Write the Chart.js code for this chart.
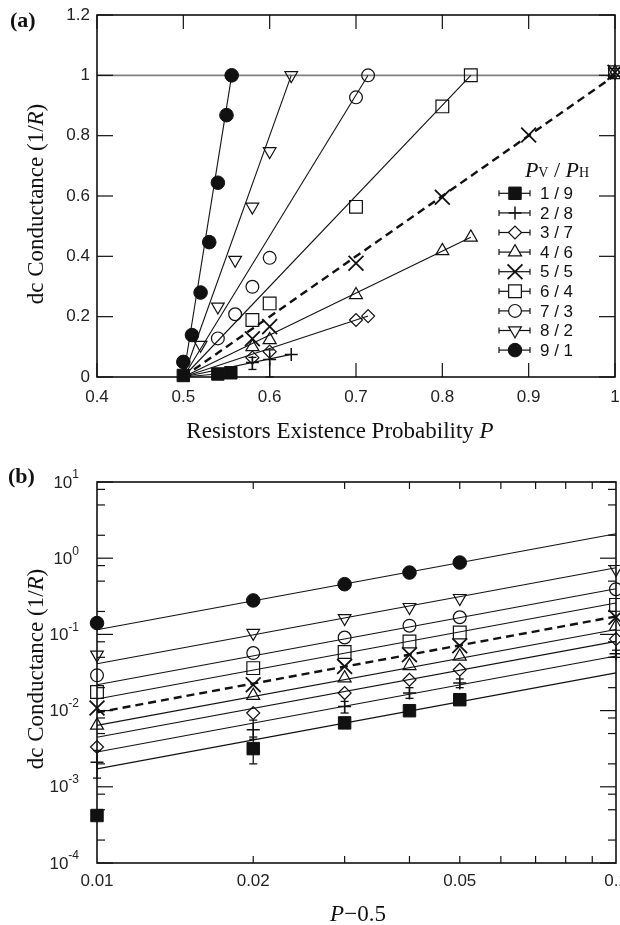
<!DOCTYPE html>
<html>
<head>
<meta charset="utf-8">
<script src="https://cdn.jsdelivr.net/npm/chart.js@4.4.1/dist/chart.umd.min.js"></script>
<style>
  body { margin: 0; background: #fff; }
  canvas { display: block; }
</style>
</head>
<body>
<canvas id="chartA" width="620" height="450"></canvas>
<canvas id="chartB" width="620" height="475"></canvas>
<script>
// ---------- data ----------
const seriesNames = ['1 / 9', '2 / 8', '3 / 7', '4 / 6', '5 / 5', '6 / 4', '7 / 3', '8 / 2', '9 / 1'];

// (a) conductance vs P
const aP19 = [0.50, 0.54, 0.555];
const aG19 = [0.005, 0.010, 0.014];
const aP28 = [0.58, 0.60, 0.625];
const aG28 = [0.048, 0.058, 0.075];
const aLo28 = [0.025, 0.0, null];
const aHi28 = [0.065, 0.09, null];
const aP37 = [0.58, 0.60, 0.70, 0.714];
const aG37 = [0.064, 0.084, 0.189, 0.202];
const aP46 = [0.58, 0.60, 0.70, 0.80, 0.833, 1.0];
const aG46 = [0.100, 0.123, 0.272, 0.418, 0.463, 1.01];
const aP55 = [0.58, 0.60, 0.70, 0.80, 0.90, 1.0];
const aG55 = [0.127, 0.167, 0.377, 0.596, 0.802, 1.01];
const aP64 = [0.58, 0.60, 0.70, 0.80, 0.833, 1.0];
const aG64 = [0.189, 0.244, 0.564, 0.897, 1.0, 1.01];
const aP73 = [0.54, 0.56, 0.58, 0.60, 0.70, 0.714];
const aG73 = [0.128, 0.208, 0.299, 0.395, 0.927, 1.0];
const aP82 = [0.52, 0.54, 0.56, 0.58, 0.60, 0.625, 1.0];
const aG82 = [0.106, 0.233, 0.388, 0.564, 0.748, 1.0, 1.01];
const aP91 = [0.50, 0.51, 0.52, 0.53, 0.54, 0.55, 0.556];
const aG91 = [0.05, 0.139, 0.28, 0.447, 0.644, 0.868, 1.0];
const aPs = [aP19, aP28, aP37, aP46, aP55, aP64, aP73, aP82, aP91];
const aGs = [aG19, aG28, aG37, aG46, aG55, aG64, aG73, aG82, aG91];
// fitted lines in (a): from P = 0.5 (G = 0) to an end point
const aFitStart = 0.5;
const aFitEndP = [0.555, 0.625, 0.714, 0.833, 1.0, 0.833, 0.714, 0.625, 0.556];
const aFitEndG = [0.014, 0.075, 0.202, 0.463, 1.0, 1.0, 1.0, 1.0, 1.0];
const aRefLevel = 1;
const aXTicks = [0.4, 0.5, 0.6, 0.7, 0.8, 0.9, 1.0];
const aYTicks = [0, 0.2, 0.4, 0.6, 0.8, 1.0, 1.2];

// (b) conductance vs P-0.5 (log-log)
const bX = [0.01, 0.02, 0.03, 0.04, 0.05, 0.1];
const bG19 = [0.00042, 0.00317, 0.0069, 0.00997, 0.0139, null];
const bG28 = [0.0021, 0.0056, 0.0113, 0.017, 0.023, 0.0557];
const bLo28 = [0.0013, 0.0042, 0.0093, 0.0145, 0.020, 0.050];
const bHi28 = [0.0030, 0.0075, 0.0132, 0.020, 0.026, 0.062];
const bLo19 = [null, 0.0020, null, null, null, null];
const bHi19 = [null, 0.0045, null, null, null, null];
const bG37 = [0.00333, 0.0093, 0.017, 0.0254, 0.0344, 0.0867];
const bG46 = [0.0064, 0.0157, 0.0267, 0.0387, 0.0514, 0.127];
const bG55 = [0.0108, 0.0218, 0.038, 0.054, 0.071, 0.168];
const bG64 = [0.0175, 0.0361, 0.0586, 0.0807, 0.106, 0.244];
const bG73 = [0.029, 0.0569, 0.091, 0.13, 0.168, 0.392];
const bG82 = [0.054, 0.104, 0.163, 0.228, 0.299, 0.718];
const bG91 = [0.141, 0.279, 0.456, 0.648, 0.877, null];
const bGs = [bG19, bG28, bG37, bG46, bG55, bG64, bG73, bG82, bG91];
// power-law fits: value at x = 0.01 and x = 0.1
const bFitX = [0.01, 0.1];
const bFitAt001 = [0.00172, 0.00286, 0.00446, 0.0064, 0.00946, 0.0142, 0.0218, 0.0412, 0.115];
const bFitAt01 = [0.0313, 0.052, 0.081, 0.116, 0.172, 0.258, 0.397, 0.75, 2.09];
const bXLabels = [0.01, 0.02, 0.05, 0.1];
const bXTicks = [0.02, 0.03, 0.04, 0.05, 0.06, 0.07, 0.08, 0.09];
const bYMajor = [1e-4, 1e-3, 1e-2, 1e-1, 1, 10];
const bYMinorMult = [2, 5, 8];

// ---------- styles ----------
const INK = '#111';
const markers = [
  { style: 'rect', r: 8.8, filled: true, bw: 1 },
  { style: 'cross', r: 6.5, bw: 1.5 },
  { style: 'rectRot', r: 6.5, bw: 1.2 },
  { style: 'triangle', r: 7.5, bw: 1.2 },
  { style: 'crossRot', r: 10.5, bw: 1.8 },
  { style: 'rect', r: 9, bw: 1.2 },
  { style: 'circle', r: 6.4, bw: 1.2 },
  { style: 'triangle', r: 7.3, rot: 180, bw: 1.2 },
  { style: 'circle', r: 6.8, filled: true, bw: 1 }
];
const SANS = '"Liberation Sans", Arial, sans-serif';
const SERIF = '"Liberation Serif", "Times New Roman", serif';

function markerSet(i, xs, ys, lo, hi) {
  const pts = [], los = [], his = [];
  xs.forEach((x, j) => {
    if (ys[j] == null) return;
    pts.push({ x: x, y: ys[j] });
    los.push(lo ? lo[j] : null);
    his.push(hi ? hi[j] : null);
  });
  const m = markers[i];
  return {
    label: seriesNames[i],
    data: pts,
    showLine: false,
    pointStyle: m.style,
    pointRadius: m.r,
    pointHoverRadius: m.r,
    pointRotation: m.rot || 0,
    pointBorderWidth: m.bw,
    pointBorderColor: INK,
    pointBackgroundColor: m.filled ? INK : 'rgba(0,0,0,0)',
    clip: false,
    order: 0,
    errLo: los,
    errHi: his
  };
}

function fitSet(i, x0, y0, x1, y1) {
  return {
    label: '',
    data: [{ x: x0, y: y0 }, { x: x1, y: y1 }],
    showLine: true,
    pointRadius: 0,
    borderColor: INK,
    borderWidth: i === 4 ? 2.4 : 1.1,
    borderDash: i === 4 ? [8, 5] : [],
    clip: false,
    order: 1
  };
}

function richText(ctx, parts, cx, y) {
  let w = 0;
  parts.forEach(p => { ctx.font = p.f; p.w = ctx.measureText(p.t).width; w += p.w; });
  let x = cx - w / 2;
  ctx.textAlign = 'left';
  ctx.textBaseline = 'alphabetic';
  parts.forEach(p => { ctx.font = p.f; ctx.fillText(p.t, x, y + (p.dy || 0)); x += p.w; });
}

function yTitle(ctx, x, y) {
  ctx.save();
  ctx.translate(x, y);
  ctx.rotate(-Math.PI / 2);
  richText(ctx, [
    { t: 'dc Conductance (1/', f: '23px ' + SERIF },
    { t: 'R', f: 'italic 23px ' + SERIF },
    { t: ')', f: '23px ' + SERIF }
  ], 0, 0);
  ctx.restore();
}

function line(ctx, x0, y0, x1, y1) {
  ctx.beginPath(); ctx.moveTo(x0, y0); ctx.lineTo(x1, y1); ctx.stroke();
}

// frame with inward ticks on all four sides
function drawFrame(chart, xTicks, yTicks) {
  const ctx = chart.ctx, a = chart.chartArea;
  const xs = chart.scales.x, ys = chart.scales.y;
  ctx.save();
  ctx.strokeStyle = INK;
  ctx.lineWidth = 1.2;
  xTicks.forEach(t => {
    const px = xs.getPixelForValue(t.v);
    line(ctx, px, a.bottom, px, a.bottom - t.len);
    line(ctx, px, a.top, px, a.top + t.len);
  });
  yTicks.forEach(t => {
    const py = ys.getPixelForValue(t.v);
    line(ctx, a.left, py, a.left + t.len, py);
    line(ctx, a.right, py, a.right - t.len, py);
  });
  ctx.lineWidth = 1.6;
  ctx.strokeRect(a.left, a.top, a.right - a.left, a.bottom - a.top);
  ctx.restore();
}

const errBars = {
  id: 'errBars',
  afterDatasetsDraw(chart) {
    const ctx = chart.ctx, xs = chart.scales.x, ys = chart.scales.y;
    ctx.save();
    ctx.strokeStyle = INK;
    ctx.lineWidth = 1.3;
    chart.data.datasets.forEach(ds => {
      if (!ds.errLo) return;
      ds.data.forEach((pt, j) => {
        const lo = ds.errLo[j], hi = ds.errHi[j];
        if (lo == null || hi == null) return;
        const px = xs.getPixelForValue(pt.x);
        const y1 = ys.getPixelForValue(lo), y2 = ys.getPixelForValue(hi);
        line(ctx, px, y1, px, y2);
        line(ctx, px - 4, y1, px + 4, y1);
        line(ctx, px - 4, y2, px + 4, y2);
      });
    });
    ctx.restore();
  }
};

const hiddenGrid = { display: false, drawTicks: false };
const shortNum = v => String(Math.round(v * 10) / 10);
// fixed box sizes, no extra room for edge labels
function fixBox(w, h) {
  return s => {
    if (w != null) s.width = w;
    if (h != null) s.height = h;
    s.paddingLeft = 0; s.paddingRight = 0; s.paddingTop = 0; s.paddingBottom = 0;
  };
}

// ---------- panel (a) ----------
document.addEventListener('DOMContentLoaded', function () {
  const dsA = [];
  for (let i = 0; i < 9; i++) {
    dsA.push(markerSet(i, aPs[i], aGs[i], i === 1 ? aLo28 : null, i === 1 ? aHi28 : null));
  }
  for (let i = 0; i < 9; i++) {
    dsA.push(fitSet(i, aFitStart, 0, aFitEndP[i], aFitEndG[i]));
  }
  dsA.push({
    label: '', data: [{ x: aXTicks[0], y: aRefLevel }, { x: aXTicks[aXTicks.length - 1], y: aRefLevel }],
    showLine: true, pointRadius: 0, borderColor: '#808080', borderWidth: 1.6, order: 2
  });

  const decoA = {
    id: 'decoA',
    afterDraw(chart) {
      const ctx = chart.ctx;
      drawFrame(chart,
        aXTicks.map(v => ({ v: v, len: 14 })),
        aYTicks.map(v => ({ v: v, len: 16 })));
      ctx.save();
      ctx.fillStyle = INK;
      ctx.textAlign = 'left';
      ctx.textBaseline = 'alphabetic';
      ctx.font = 'bold 22px ' + SERIF;
      ctx.fillText('(a)', 10, 27);
      yTitle(ctx, 43, 204);
      richText(ctx, [
        { t: 'Resistors Existence Probability ', f: '23px ' + SERIF },
        { t: 'P', f: 'italic 23px ' + SERIF }
      ], 340, 438);

      // legend
      richText(ctx, [
        { t: 'P', f: 'italic 22px ' + SERIF },
        { t: 'V', f: '14px ' + SERIF },
        { t: ' / ', f: '22px ' + SERIF },
        { t: 'P', f: 'italic 22px ' + SERIF },
        { t: 'H', f: '14px ' + SERIF }
      ], 557, 177);
      for (let i = 0; i < 9; i++) {
        const y = 193.3 + i * 19.6;
        const m = markers[i];
        ctx.strokeStyle = INK;
        ctx.lineWidth = 1.2;
        line(ctx, 499, y, 530, y);
        line(ctx, 499, y - 3, 499, y + 3);
        line(ctx, 530, y - 3, 530, y + 3);
        ctx.fillStyle = m.filled ? INK : '#fff';
        ctx.lineWidth = m.bw;
        Chart.helpers.drawPoint(ctx, { pointStyle: m.style, rotation: m.rot || 0, radius: m.r, borderWidth: m.bw }, 515, y);
        ctx.fillStyle = INK;
        ctx.font = '17px ' + SANS;
        ctx.textBaseline = 'middle';
        ctx.fillText(seriesNames[i], 540, y + 1);
      }
      ctx.restore();
    }
  };

  new Chart(document.getElementById('chartA').getContext('2d'), {
    type: 'scatter',
    data: { datasets: dsA },
    options: {
      responsive: false,
      animation: false,
      events: [],
      layout: { autoPadding: false, padding: { left: 0, top: 15, right: 5, bottom: 0 } },
      plugins: { legend: { display: false }, tooltip: { enabled: false } },
      scales: {
        x: {
          type: 'linear', min: 0.4, max: 1,
          grid: hiddenGrid, border: { display: false },
          ticks: { stepSize: 0.1, padding: 10, maxRotation: 0, autoSkip: false, color: '#222', font: { family: SANS, size: 17 }, callback: shortNum },
          afterFit: fixBox(null, 73)
        },
        y: {
          type: 'linear', min: 0, max: 1.2,
          grid: hiddenGrid, border: { display: false },
          ticks: { stepSize: 0.2, padding: 7, color: '#222', font: { family: SANS, size: 17 }, callback: shortNum },
          afterFit: fixBox(97, null)
        }
      }
    },
    plugins: [errBars, decoA]
  });
});

// ---------- panel (b) ----------
document.addEventListener('DOMContentLoaded', function () {
  const dsB = [];
  for (let i = 0; i < 9; i++) {
    let lo = null, hi = null;
    if (i === 0) { lo = bLo19; hi = bHi19; }
    if (i === 1) { lo = bLo28; hi = bHi28; }
    dsB.push(markerSet(i, bX, bGs[i], lo, hi));
  }
  for (let i = 0; i < 9; i++) {
    dsB.push(fitSet(i, bFitX[0], bFitAt001[i], bFitX[1], bFitAt01[i]));
  }

  const yTicksB = [];
  bYMajor.forEach(v => yTicksB.push({ v: v, len: 16 }));
  bYMajor.slice(0, -1).forEach(v => bYMinorMult.forEach(m => yTicksB.push({ v: v * m, len: 8 })));

  const decoB = {
    id: 'decoB',
    afterDraw(chart) {
      const ctx = chart.ctx, a = chart.chartArea;
      const xs = chart.scales.x, ys = chart.scales.y;
      drawFrame(chart, bXTicks.map(v => ({ v: v, len: 7 })), yTicksB);
      ctx.save();
      ctx.fillStyle = '#222';
      // y labels 10^n
      bYMajor.forEach(v => {
        const py = ys.getPixelForValue(v);
        const e = String(Math.round(Math.log10(v)));
        ctx.font = '12px ' + SANS;
        const we = ctx.measureText(e).width;
        ctx.font = '17px ' + SANS;
        const wb = ctx.measureText('10').width;
        const right = a.left - 18;
        ctx.textAlign = 'left';
        ctx.textBaseline = 'middle';
        ctx.fillText('10', right - we - wb, py + 1);
        ctx.font = '12px ' + SANS;
        ctx.fillText(e, right - we, py - 7);
      });
      // x labels
      ctx.font = '17px ' + SANS;
      ctx.textAlign = 'center';
      ctx.textBaseline = 'middle';
      bXLabels.forEach(v => {
        ctx.fillText(String(v), xs.getPixelForValue(v), a.bottom + 18);
      });
      ctx.fillStyle = INK;
      ctx.textAlign = 'left';
      ctx.textBaseline = 'alphabetic';
      ctx.font = 'bold 22px ' + SERIF;
      ctx.fillText('(b)', 8, 33);
      yTitle(ctx, 43, 219);
      richText(ctx, [
        { t: 'P', f: 'italic 23px ' + SERIF },
        { t: '\u22120.5', f: '23px ' + SERIF }
      ], 358, 471);
      ctx.restore();
    }
  };

  new Chart(document.getElementById('chartB').getContext('2d'), {
    type: 'scatter',
    data: { datasets: dsB },
    options: {
      responsive: false,
      animation: false,
      events: [],
      layout: { autoPadding: false, padding: { left: 0, top: 32, right: 4, bottom: 0 } },
      plugins: { legend: { display: false }, tooltip: { enabled: false } },
      scales: {
        x: {
          type: 'logarithmic', min: 0.01, max: 0.1,
          grid: hiddenGrid, border: { display: false },
          ticks: { display: false },
          afterFit: fixBox(null, 62)
        },
        y: {
          type: 'logarithmic', min: 1e-4, max: 10,
          grid: hiddenGrid, border: { display: false },
          ticks: { display: false },
          afterFit: fixBox(97, null)
        }
      }
    },
    plugins: [errBars, decoB]
  });
});
</script>
</body>
</html>
